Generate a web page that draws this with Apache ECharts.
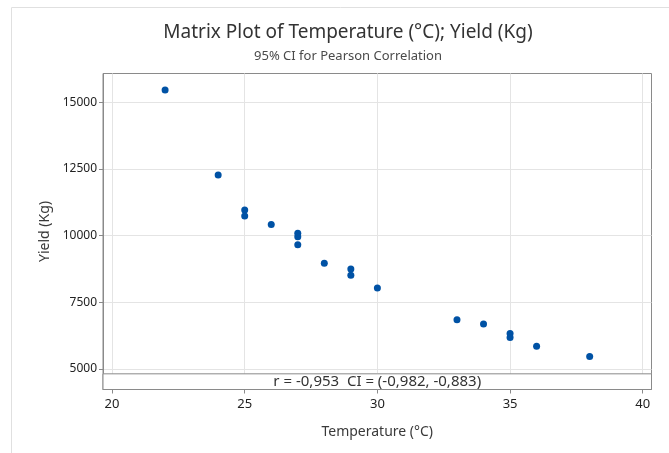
<!DOCTYPE html>
<html>
<head>
<meta charset="utf-8">
<script src="https://cdn.jsdelivr.net/npm/echarts@6/dist/echarts.min.js"></script>
<style>
    html, body { margin: 0; padding: 0; background: #ffffff; }
    #chart { width: 669px; height: 453px; }
</style>
</head>
<body>
<div id="chart"></div>
<script>
// Temperature (°C) vs Yield (Kg)
const temperature = [22, 24, 25, 25, 26, 27, 27, 27, 28, 29, 29, 30, 33, 34, 35, 35, 36, 38];
const yieldKg = [15470, 12280, 10960, 10740, 10420, 10090, 9960, 9660, 8960, 8750, 8510, 8030, 6840, 6680, 6330, 6180, 5850, 5460];

const xTicks = [20, 25, 30, 35, 40];
const yTicks = [5000, 7500, 10000, 12500, 15000];

const corrText = "r = -0,953  CI = (-0,982, -0,883)";

const fontFamily = "'Noto Sans', sans-serif";
const axisColor = "#8a8a8a";
const gridColor = "#e4e4e4";

const chart = echarts.init(document.getElementById("chart"), null, { renderer: "canvas" });

const options = {
    animation: false,
    textStyle: { fontFamily: fontFamily },
    title: {
        left: 343,
        top: 18,
        textAlign: "center",
        text: "Matrix Plot of Temperature (°C); Yield (Kg)",
        subtext: "95% CI for Pearson Correlation",
        itemGap: 8,
        textStyle: { fontFamily: fontFamily, fontSize: 19, fontWeight: "normal", color: "#333333" },
        subtextStyle: { fontFamily: fontFamily, fontSize: 13, color: "#4a4a4a" },
    },
    graphic: [
        {
            type: "polyline",
            shape: { points: [[11.5, 460], [11.5, 7.5], [680, 7.5]] },
            style: { stroke: "#e0e0e0", lineWidth: 1, fill: null },
            silent: true,
        },
    ],
    grid: {
        left: 103,
        right: 17.5,
        top: 73.5,
        bottom: 63.5,
        show: true,
        borderColor: axisColor,
        borderWidth: 1,
        backgroundColor: "#ffffff",
    },
    xAxis: {
        type: "value",
        min: 19.66,
        max: 40.33,
        name: "Temperature (°C)",
        nameLocation: "middle",
        nameGap: 36,
        nameTextStyle: { fontSize: 14, color: "#3a3a3a" },
        axisLine: { show: true, lineStyle: { color: axisColor } },
        axisTick: { show: true, length: 4, customValues: xTicks, lineStyle: { color: axisColor } },
        axisLabel: { customValues: xTicks, fontSize: 13, color: "#222222", margin: 8 },
        splitLine: { show: true, lineStyle: { color: gridColor, width: 1 } },
    },
    yAxis: {
        type: "value",
        min: 4224,
        max: 16087,
        name: "Yield (Kg)",
        nameLocation: "middle",
        nameGap: 45,
        nameTextStyle: { fontSize: 14, color: "#3a3a3a" },
        axisLine: { show: true, lineStyle: { color: axisColor } },
        axisTick: { show: true, length: 4, customValues: yTicks, lineStyle: { color: axisColor } },
        axisLabel: {
            customValues: yTicks,
            fontSize: 12,
            color: "#222222",
            margin: 6,
            formatter: (v) => String(v),
        },
        splitLine: { show: true, lineStyle: { color: gridColor, width: 1 } },
    },
    series: [
        {
            type: "scatter",
            symbol: "circle",
            symbolSize: 7,
            itemStyle: { color: "#0052a5", opacity: 1 },
            data: temperature.map((t, i) => [t, yieldKg[i]]),
            markArea: {
                silent: true,
                itemStyle: { color: "#ffffff", borderColor: axisColor, borderWidth: 1, opacity: 1 },
                label: {
                    show: true,
                    position: "inside",
                    fontSize: 15,
                    color: "#333333",
                    formatter: corrText,
                },
                data: [[{ coord: [19.66, 4812] }, { coord: [40.33, 4224] }]],
            },
        },
    ],
};

chart.setOption(options);
</script>
</body>
</html>
